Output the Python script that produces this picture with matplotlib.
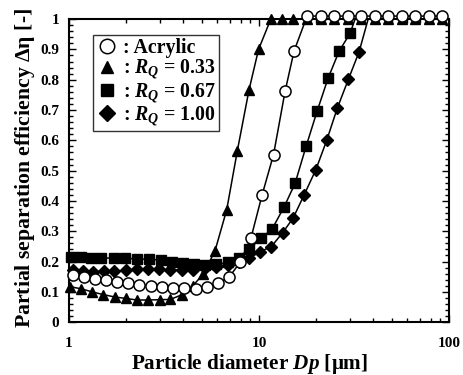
import numpy as np
import matplotlib
matplotlib.use("Agg")
import matplotlib.pyplot as plt
from matplotlib.ticker import MultipleLocator, LogLocator, FixedLocator, NullFormatter, FuncFormatter

plt.rcParams['font.family'] = ['Liberation Serif', 'DejaVu Serif']
plt.rcParams['font.weight'] = 'bold'
plt.rcParams['axes.labelweight'] = 'bold'
plt.rcParams['mathtext.fontset'] = 'custom'
plt.rcParams['mathtext.rm'] = 'Liberation Serif'
plt.rcParams['mathtext.it'] = 'Liberation Serif:italic:bold'
plt.rcParams['mathtext.bf'] = 'Liberation Serif:bold'

# Acrylic (open circles)
acr_x = [1.05, 1.20, 1.37, 1.57, 1.79, 2.04, 2.34, 2.70, 3.09, 3.53, 4.03, 4.66,
         5.33, 6.09, 6.99, 7.94, 9.08, 10.37, 11.92, 13.71, 15.29,
         17.9, 21.2, 24.8, 29.4, 34.4, 40.8, 47.8, 56.6, 66.3, 78.5, 91.9]
acr_y = [0.155, 0.150, 0.143, 0.140, 0.133, 0.130, 0.124, 0.119, 0.115, 0.111, 0.111, 0.109,
         0.116, 0.128, 0.150, 0.197, 0.279, 0.419, 0.553, 0.762, 0.895,
         1.01, 1.01, 1.01, 1.01, 1.01, 1.01, 1.01, 1.01, 1.01, 1.01, 1.01]

# R_Q = 0.33 (triangles)
r33_x = [1.01, 1.16, 1.32, 1.51, 1.74, 2.00, 2.28, 2.62, 3.00, 3.42, 3.91, 4.49,
         5.10, 5.87, 6.76, 7.69, 8.86, 9.94, 11.53, 13.17, 15.05,
         17.9, 21.2, 24.8, 29.4, 34.4, 40.8, 47.8, 56.6, 66.3, 78.5, 91.9]
r33_y = [0.117, 0.110, 0.100, 0.091, 0.083, 0.078, 0.073, 0.073, 0.074, 0.075, 0.090, 0.120,
         0.160, 0.236, 0.371, 0.566, 0.767, 0.900, 1.0, 1.0, 1.0,
         1.0, 1.0, 1.0, 1.0, 1.0, 1.0, 1.0, 1.0, 1.0, 1.0, 1.0]

# R_Q = 0.67 (squares); last point is where the curve meets 1
r67_x = [1.025, 1.16, 1.305, 1.47, 1.73, 1.97, 2.28, 2.64, 3.05, 3.48, 3.98, 4.55,
         5.20, 5.94, 6.87, 7.85, 8.86, 10.24, 11.71, 13.54, 15.47, 17.68, 20.2,
         23.08, 26.37, 30.12, 32.0]
r67_y = [0.214, 0.214, 0.213, 0.212, 0.211, 0.210, 0.209, 0.207, 0.205, 0.200, 0.196, 0.193,
         0.190, 0.191, 0.197, 0.212, 0.240, 0.277, 0.307, 0.380, 0.458, 0.580, 0.696,
         0.805, 0.894, 0.953, 1.0]

# R_Q = 1.00 (diamonds); last point is where the curve meets 1
r100_x = [1.05, 1.19, 1.34, 1.52, 1.73, 1.99, 2.27, 2.61, 2.99, 3.40, 3.91, 4.48,
          5.20, 5.94, 6.84, 7.80, 8.87, 10.1, 11.6, 13.3, 15.1, 17.3, 19.9,
          22.7, 25.8, 29.5, 33.6, 37.5]
r100_y = [0.171, 0.168, 0.166, 0.168, 0.168, 0.171, 0.174, 0.174, 0.174, 0.172, 0.172, 0.172,
          0.177, 0.182, 0.188, 0.199, 0.210, 0.232, 0.249, 0.295, 0.343, 0.421, 0.503,
          0.600, 0.706, 0.801, 0.892, 1.0]

fig = plt.figure(figsize=(4.63, 3.75), dpi=100)
ax = fig.add_axes([0.149, 0.141, 0.821, 0.808])

lw = 1.1
ax.plot(r67_x, r67_y, color='black', lw=lw, marker='s', ms=7, mfc='black', mec='black',
        markevery=list(range(len(r67_x) - 1)), clip_on=False, zorder=3, label=r': $R_Q$ = 0.67')
ax.plot(r100_x, r100_y, color='black', lw=lw, marker='D', ms=6.2, mfc='black', mec='black',
        markevery=list(range(len(r100_x) - 1)), clip_on=False, zorder=3, label=r': $R_Q$ = 1.00')
ax.plot(r33_x, r33_y, color='black', lw=lw, marker='^', ms=7, mfc='black', mec='black',
        clip_on=False, zorder=4, label=r': $R_Q$ = 0.33')
ax.plot(acr_x, acr_y, color='black', lw=lw, marker='o', ms=8, mfc='white', mec='black',
        mew=1.1, clip_on=False, zorder=5, label=': Acrylic')

ax.set_xscale('log')
ax.set_xlim(1, 100)
ax.set_ylim(0, 1)

ax.xaxis.set_major_locator(FixedLocator([1, 10, 100]))
ax.xaxis.set_major_formatter(FuncFormatter(lambda v, p: f'{v:g}'))
ax.xaxis.set_minor_locator(LogLocator(base=10, subs=np.arange(2, 10)))
ax.xaxis.set_minor_formatter(NullFormatter())
ax.yaxis.set_major_locator(MultipleLocator(0.1))
ax.yaxis.set_minor_locator(MultipleLocator(0.02))
ax.yaxis.set_major_formatter(FuncFormatter(lambda v, p: f'{v:g}'))

ax.tick_params(which='both', direction='in', top=True, right=True, width=1)
ax.tick_params(which='major', length=5, labelsize=11)
ax.tick_params(which='minor', length=3)
ax.tick_params(axis='x', pad=11)
ax.tick_params(axis='y', pad=7)
for s in ax.spines.values():
    s.set_linewidth(1.5)

ax.set_xlabel(r'Particle diameter $Dp$ $\mathrm{[\mu m]}$', fontsize=15.2, labelpad=1)
ax.xaxis.label.set_x(0.476)
ax.set_ylabel(r'Partial separation efficiency $\mathrm{\Delta\eta}$ [-]', fontsize=15.7, labelpad=2)
ax.yaxis.label.set_y(0.51)

handles, labels = ax.get_legend_handles_labels()
order = [3, 2, 0, 1]
leg = ax.legend([handles[i] for i in order], [labels[i] for i in order],
                loc='upper left', bbox_to_anchor=(0.063, 0.947), borderaxespad=0,
                fontsize=14.3, frameon=True, fancybox=False, edgecolor='black',
                handlelength=1.15, handletextpad=0.2, labelspacing=0.0,
                borderpad=0.15, numpoints=1, markerscale=1.3)
leg.get_frame().set_linewidth(1.0)
for h in leg.legend_handles:
    h.set_linestyle('none')

fig.savefig('out.png', dpi=100)
